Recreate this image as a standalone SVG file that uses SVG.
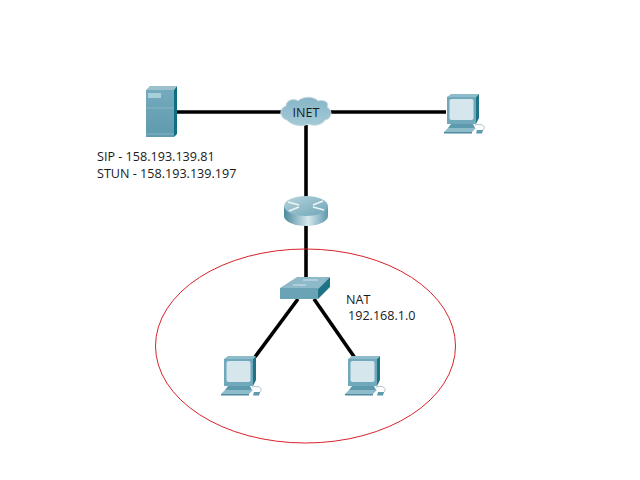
<svg xmlns="http://www.w3.org/2000/svg" width="640" height="480" viewBox="0 0 640 480">
<style>
text{font-family:"Open Sans","Noto Sans",sans-serif;font-size:12.6px;fill:#1a1a1a}
.link{stroke:#000;stroke-width:3.6;fill:none}
</style>
<defs>
<linearGradient id="serverFace" x1="0" y1="0" x2="0" y2="1"><stop offset="0" stop-color="#74aabd"/><stop offset="1" stop-color="#5f9aae"/></linearGradient>
<linearGradient id="cloudFill" x1="0" y1="0" x2="0" y2="1"><stop offset="0" stop-color="#86b6c7"/><stop offset="1" stop-color="#a4cad6"/></linearGradient>
<linearGradient id="routerSide" x1="0" y1="0" x2="1" y2="0"><stop offset="0" stop-color="#4a8a9e"/><stop offset="0.55" stop-color="#d6e8ee"/><stop offset="1" stop-color="#5d98aa"/></linearGradient>
<linearGradient id="routerTop" x1="0" y1="0" x2="1" y2="1"><stop offset="0" stop-color="#b7d3dd"/><stop offset="1" stop-color="#6ea5b7"/></linearGradient>
<g id="pc">
<path d="M4 3 L8 0 L36 0 L33 3 Z" fill="#8fbccb"/>
<path d="M33 30 L33 3 L36 0 L36 24 Z" fill="#1f7386"/>
<rect x="4" y="3" width="29" height="27" fill="#6fa9bb"/>
<rect x="6.500" y="5" width="24" height="21" rx="2" fill="#d5e6ec"/>
<path d="M8 30 H30 L32 34 H5 Z" fill="#5d9aad"/>
<path d="M5 34 H33 L29 38 H1 Z" fill="#8fbccb"/>
<path d="M1 38 H29 L29 39.500 H1 Z" fill="#4f8ba0"/>
<path d="M32 31 C40 29 44 33 39 37" fill="none" stroke="#a9c4cc" stroke-width="1"/>
<path d="M34 36 L40 36 L39 39.500 L33 39.500 Z" fill="#5d9aad"/>
</g>
</defs>
<rect width="640" height="480" fill="#fff"/>
<g id="connectors">
<path class="link" d="M176 112 H282"/>
<path class="link" d="M330 112 H446"/>
<path class="link" d="M306 125 V197"/>
<path class="link" d="M306 224 V277"/>
<path class="link" d="M298 299 L255 357"/>
<path class="link" d="M314 299 L355 358"/>
</g>
<g id="server">
<path d="M146 90 L150 86 L177 86 L174 90 Z" fill="#9cc0cc"/>
<path d="M174 90 L177 86 L177 134 L174 137 Z" fill="#0f6f82"/>
<rect x="146" y="90" width="28" height="47" fill="url(#serverFace)"/>
<rect x="148" y="93" width="13" height="5" fill="#a9cfda"/>
<path d="M146 108 H174" stroke="#85b5c4" stroke-width="1"/>
<path d="M146 134 H174" stroke="#85b5c4" stroke-width="1"/>
</g>
<g id="inet">
<path d="M287 120 C279 118 279 108 286 106 C286 100 294 98 298 101 C303 96 314 96 318 101 C324 99 330 103 327 107 C333 110 332 119 325 120 C322 126 312 126 308 124 C303 127 292 126 287 120 Z" fill="url(#cloudFill)" stroke="#c5dbe3" stroke-width="1"/>
<text x="306" y="117" text-anchor="middle">INET</text>
</g>
<g id="pc-internet"><use href="#pc" x="443" y="94"/></g>
<g id="router">
<path d="M284 206 V216 A22 10 0 0 0 328 216 V206 Z" fill="url(#routerSide)"/>
<ellipse cx="306" cy="206" rx="22" ry="10" fill="url(#routerTop)"/>
<path d="M288 202 L299 205 M324 210 L313 207 M289 211 L299 207 M323 201 L313 205" stroke="#eef5f7" stroke-width="1.800" fill="none"/>
</g>
<g id="switch">
<path d="M280 288 L297 277 L330 277 L318 289 Z" fill="#8db9c8"/>
<path d="M318 289 L330 277 L330 287 L318 299 Z" fill="#1f7386"/>
<rect x="280" y="288" width="38" height="11" fill="#6aa3b5"/>
<path d="M293 285 H306 M303 280 H318" stroke="#d5e6ec" stroke-width="1.200"/>
</g>
<g id="pc-left"><use href="#pc" x="220" y="356"/></g>
<g id="pc-right"><use href="#pc" x="344" y="356"/></g>
<g id="nat-zone"><ellipse cx="305.500" cy="346" rx="150" ry="97" fill="none" stroke="#d8232a" stroke-width="1"/></g>
<g id="labels">
<text x="97" y="161">SIP - 158.193.139.81</text>
<text x="97" y="178">STUN - 158.193.139.197</text>
<text x="346" y="304">NAT</text>
<text x="348" y="320">192.168.1.0</text>
</g>
</svg>
